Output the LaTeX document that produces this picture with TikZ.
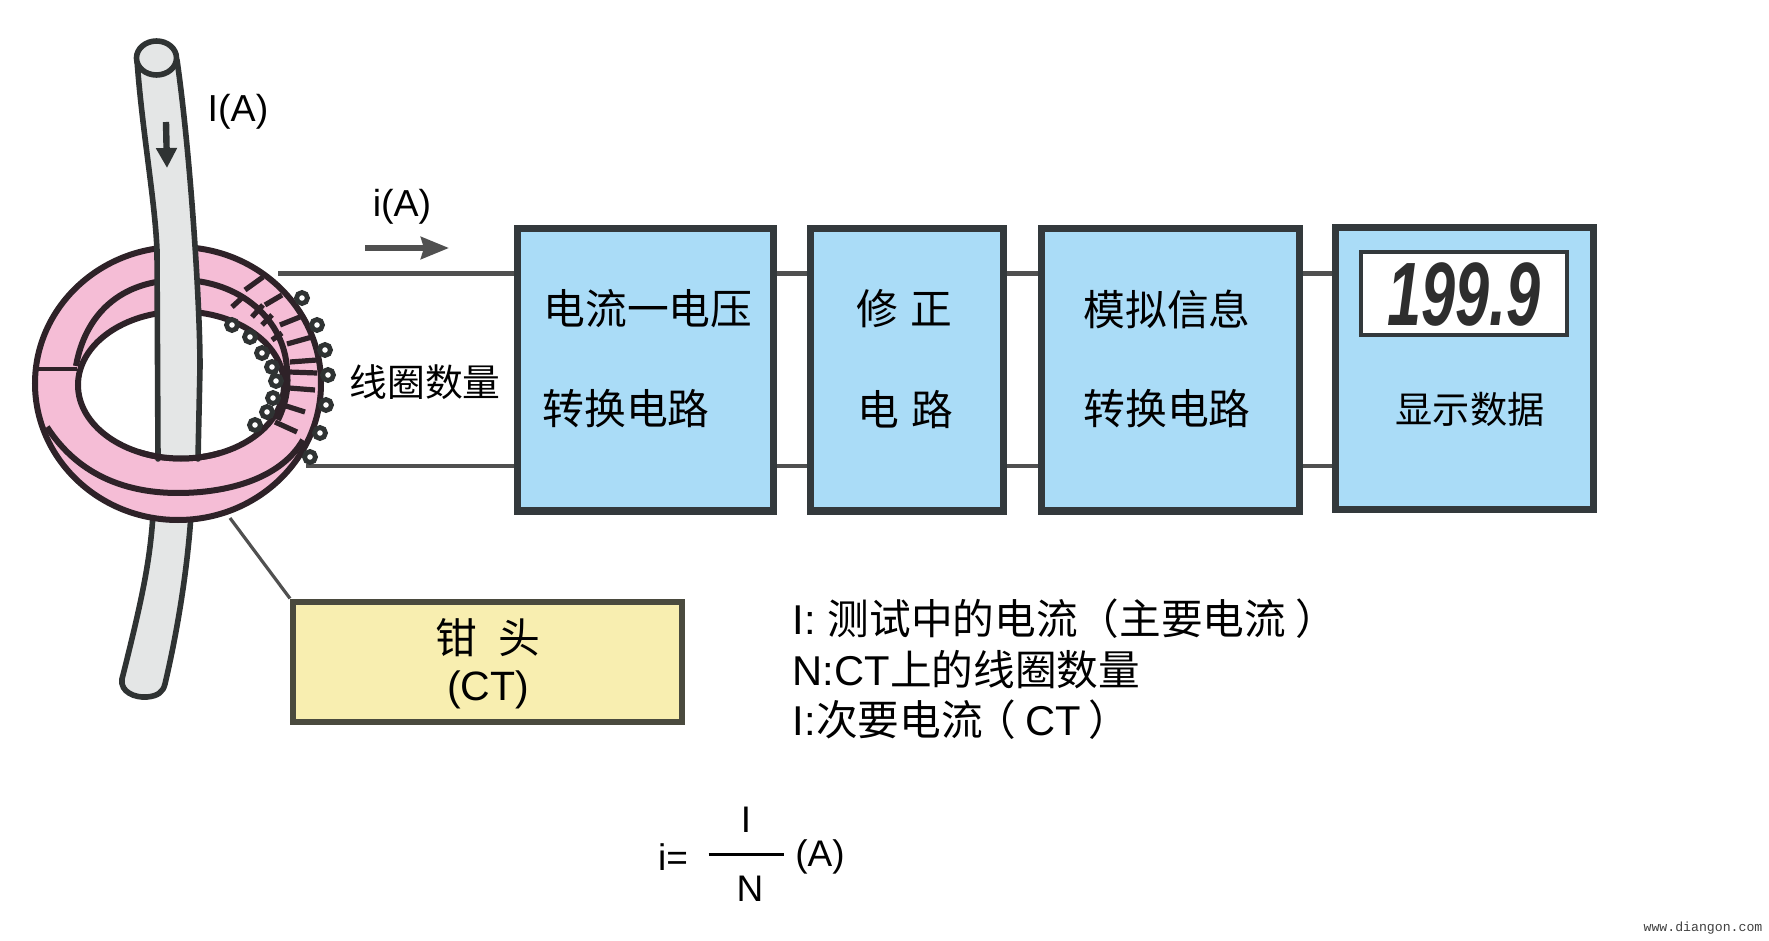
\documentclass[tikz,border=0pt]{standalone}
\usepackage{fontspec}
\usetikzlibrary{arrows.meta}
\setmainfont{Liberation Sans}
\setmonofont{Liberation Mono}
\newfontfamily\cjk{Noto Sans CJK SC}
\definecolor{boxblue}{HTML}{AADCF7}
\definecolor{boxedge}{HTML}{33393C}
\definecolor{ctfill}{HTML}{F8EEB0}
\definecolor{ctedge}{HTML}{4A4A3E}
\definecolor{ringpink}{HTML}{F5BDD6}
\definecolor{ringedge}{HTML}{2E2228}
\definecolor{wire}{HTML}{505050}
\definecolor{conductor}{HTML}{E4E6E6}
\definecolor{condedge}{HTML}{2F3333}
\newcommand{\fs}[1]{\fontsize{#1pt}{#1pt}\selectfont}
\tikzset{
  blockbox/.style={draw=boxedge,fill=boxblue,line width=3.5pt,inner sep=0pt,minimum height=141pt},
  ctbox/.style={draw=ctedge,fill=ctfill,line width=3pt,inner sep=0pt,minimum width=194.5pt,minimum height=60pt},
  dispbox/.style={draw=boxedge,fill=white,line width=2pt,inner sep=0pt,minimum width=103pt,minimum height=41.5pt},
  cn/.style={inner sep=0pt,font=\cjk\fs{20.9}},
  lat/.style={inner sep=0pt,font=\fs{18.8}},
  lst/.style={inner sep=0pt,anchor=west,font=\fs{20.84}},
  frm/.style={inner sep=0pt,font=\fs{18.5}},
  wireline/.style={draw=wire,line width=2.3pt},
  ringline/.style={draw=ringedge,line width=3pt},
  turn/.style={draw=ringedge,line width=2.6pt},
  coil/.style={draw=condedge,line width=2.4pt,fill=white},
  condline/.style={draw=condedge,line width=2.8pt,line cap=round}
}
\begin{document}
\begin{tikzpicture}[x=0.5pt,y=-0.5pt]
\useasboundingbox (0,0) rectangle (1769,941);
% named anchors
\coordinate (topwire) at (0,273.5);
\coordinate (botwire) at (0,466);
\coordinate (ringT) at (278,273.5);
\coordinate (ringB) at (306,466);
\coordinate (ringL) at (230,518);
\coordinate (iS) at (365,248);
\coordinate (iE) at (449,248);
\coordinate (aS) at (166,122);
\coordinate (aE) at (167,168);
\coordinate (fracL) at (708.5,854);
\coordinate (fracR) at (783.5,854);
% blocks
\node[blockbox,minimum width=128pt] (b1) at (645,370) {};
\node[blockbox,minimum width=96.8pt] (b2) at (907,370) {};
\node[blockbox,minimum width=129pt] (b3) at (1170,370) {};
\node[blockbox,minimum width=129pt] (b4) at (1464,369) {};
\node[dispbox] (disp) at (1464,294) {};
\node[ctbox] (ct) at (487.5,661.5) {};
% wires
\draw[wireline] (ringT) -- (b1.west |- ringT);
\draw[wireline] (ringB) -- (b1.west |- ringB);
\foreach \a/\b in {b1/b2,b2/b3,b3/b4}{
  \draw[wireline] (\a.east |- topwire) -- (\b.west |- topwire);
  \draw[wireline] (\a.east |- botwire) -- (\b.west |- botwire);
}
\draw[draw=wire,line width=1.6pt] (ringL) -- (ct.north west);
% conductor, lower part
\path[fill=conductor] (153,515) .. controls (150,560) and (143,596) .. (122,679)
  .. controls (120,692) and (135,698) .. (147,697)
  .. controls (158,696) and (163,692) .. (165,684)
  .. controls (180,620) and (188,560) .. (191,515) -- cycle;
\draw[condline] (153,515) .. controls (150,560) and (143,596) .. (122,679)
  .. controls (120,692) and (135,698) .. (147,697)
  .. controls (158,696) and (163,692) .. (165,684)
  .. controls (180,620) and (188,560) .. (191,515);
% ring
\path[fill=ringpink,even odd rule] (178,383.5) ellipse [x radius=143,y radius=136.5]
  (181,385) ellipse [x radius=103,y radius=73.5];
\draw[ringline] (178,383.5) ellipse [x radius=143,y radius=136.5];
\draw[ringline] (181,385) ellipse [x radius=103,y radius=73.5];
\draw[ringline] (76,366) .. controls (85,315) and (120,280) .. (180,280)
  .. controls (240,280) and (285,320) .. (287,370)
  .. controls (289,390) and (285,405) .. (278,420);
\draw[ringline] (47,427) .. controls (80,478) and (130,493) .. (178,493)
  .. controls (225,493) and (280,480) .. (303,440);
\draw[ringline,line width=2pt] (37,369) -- (77,369);
% windings
\foreach \x/\y/\u/\v in {245/290/263/277,265/305/282/295,280/325/300/317,287/344/312/337,
  290/362/317/360,289/372/317/373,289/388/315/390,283/405/305/412,275/422/297/432,
  232/307/243/297,252/317/263/305,262/325/272/315,272/340/282/333}{
  \draw[turn] (\x,\y) -- (\u,\v);
}
\foreach \x/\y in {302/298,317/325,325/350,328/375,326/405,320/433,310/457,
  232/325,250/337,262/353,272/367,276/381,273/398,267/412,255/425}{
  \draw[coil] (\x,\y) circle [radius=5.5];
}
% conductor, upper part
\path[fill=conductor] (137,60) .. controls (142,130) and (155,200) .. (157,250)
  -- (158,459) -- (198,459) -- (200,367) .. controls (200,300) and (190,150) .. (177,60) -- cycle;
\draw[condline] (137,60) .. controls (142,130) and (155,200) .. (157,250) -- (158,459);
\draw[condline] (177,60) .. controls (190,150) and (200,300) .. (200,367) -- (198,459);
\draw[condline,fill=conductor] (156.5,58) ellipse [x radius=20,y radius=17];
\begin{scope}
  \clip (140,440) rectangle (220,470);
  \draw[ringline] (181,385) ellipse [x radius=103,y radius=73.5];
\end{scope}
% arrows
\draw[draw=condedge,line width=3.2pt,-{Triangle[length=10pt,width=10pt]}] (aS) -- (aE);
\draw[draw=wire,line width=2.8pt,-{Stealth[length=14pt,width=11pt,inset=1.5pt]}] (iS) -- (iE);
% texts
\node[lat] (tIA) at (238,112) {I(A)};
\node[lat] (tiA) at (402,207) {i(A)};
\node[cn,font=\cjk\fs{18.9}] (tcoil) at (425,382) {线圈数量};
\node[cn] (t11) at (648,309) {电流一电压};
\node[cn] (t12) at (626,409) {转换电路};
\node[cn] (t21) at (904,309) {修\hspace{6pt}正};
\node[cn] (t22) at (905,410) {电\hspace{6pt}路};
\node[cn] (t31) at (1167,309) {模拟信息};
\node[cn] (t32) at (1167,409) {转换电路};
\node[cn,font=\cjk\fs{18.6}] (t41) at (1470,409) {显示数据};
\node[inner sep=0pt,font=\bfseries\itshape\fs{45},text=black!82] (digits) at (1464,295) {\scalebox{0.68}[1]{199.9}};
\node[cn] (t51) at (488,638) {钳\hspace{11pt}头};
\node[inner sep=0pt,font=\fs{20.5}] (t52) at (488,690) {(CT)};
\node[lst] (l1) at (792.5,619) {I: {\cjk 测试中的电流（主要电流\hspace{4.5pt}）}};
\node[lst] (l2) at (792.5,670) {N:CT{\cjk 上的线圈数量}};
\node[lst] (l3) at (792.5,720) {I:{\cjk 次要电流\hspace{-4pt}（\hspace{4.6pt}}CT{\hspace{3.5pt}\cjk ）}};
\node[frm] (fi) at (673,857) {i=};
\draw[draw=black,line width=1.5pt] (fracL) -- (fracR);
\node[frm] (fI) at (746,820) {I};
\node[frm] (fN) at (750,889) {N};
\node[frm] (fA) at (820,857) {(A)};
\node[inner sep=0pt,font=\ttfamily\fs{6.6},text=black!75] (wm) at (1703,928) {www.diangon.com};
\end{tikzpicture}
\end{document}
